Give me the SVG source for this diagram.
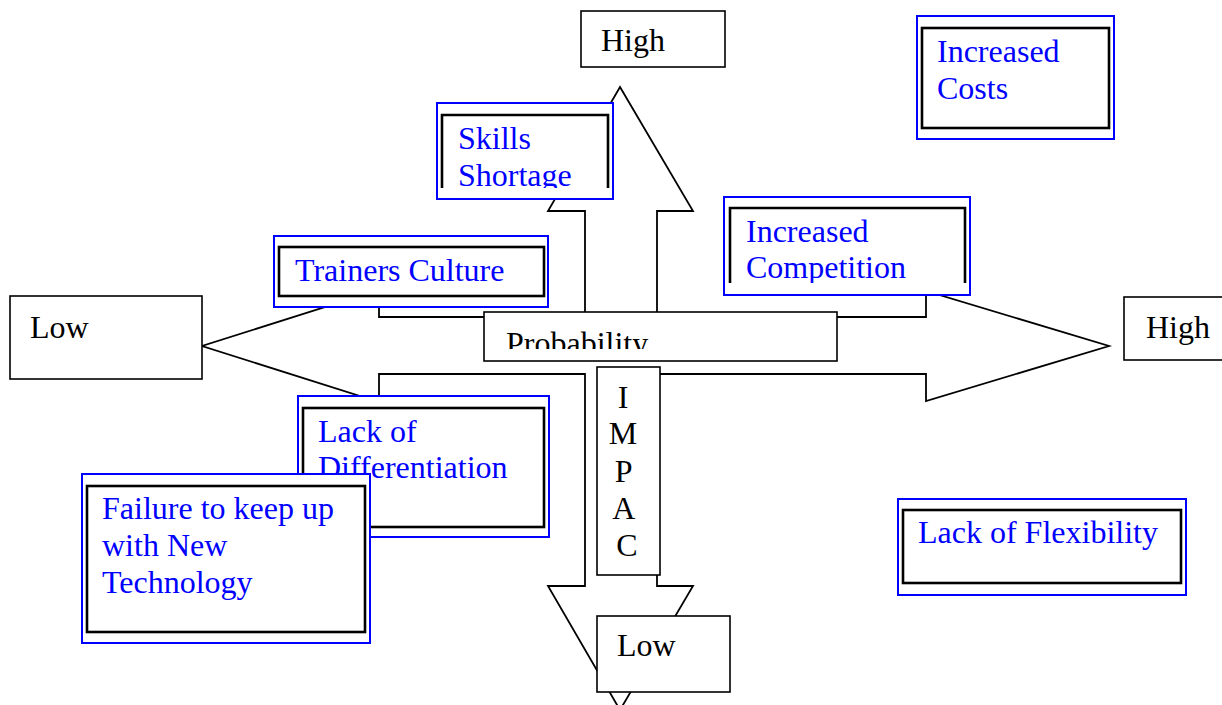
<svg xmlns="http://www.w3.org/2000/svg" width="1222" height="705" viewBox="0 0 1222 705">
  <defs>
    <style>
      text { font-family: "Liberation Serif", "Times New Roman", serif; font-size: 32px; }
      .lbl { fill: #000; }
      .risk { fill: #0000ff; }
      .plain { fill: #fff; stroke: #000; stroke-width: 1.6; }
      .outer { fill: #fff; stroke: #0000ff; stroke-width: 2; }
      .inner { fill: none; stroke: #000; stroke-width: 2.6; }
      .axis { fill: #fff; stroke: #000; stroke-width: 1.8; stroke-linejoin: miter; }
    </style>
    <clipPath id="clipSkills"><rect x="437" y="103" width="176" height="85"/></clipPath>
    <clipPath id="clipCompetition"><rect x="724" y="197" width="246" height="86"/></clipPath>
    <clipPath id="clipProb"><rect x="484" y="312" width="353" height="37"/></clipPath>
  </defs>

  <!-- four-way arrow: probability (horizontal) and impact (vertical) axes -->
  <g id="connectors">
    <polygon class="axis" points="620,87 693,211 657,211 657,317 926,317 926,291 1109,346 926,401 926,374 657,374 657,586 693,586 620,710 548,586 585,586 585,374 379,374 379,402 202,346 379,290 379,317 585,317 585,211 548,211"/>
  </g>

  <!-- axis end labels -->
  <g id="impact-high">
    <rect class="plain" x="581" y="11" width="144" height="56"/>
    <text class="lbl" x="601" y="51">High</text>
  </g>
  <g id="prob-low">
    <rect class="plain" x="10" y="296" width="192" height="83"/>
    <text class="lbl" x="30" y="338">Low</text>
  </g>
  <g id="prob-high">
    <rect class="plain" x="1124" y="297" width="104" height="63"/>
    <text class="lbl" x="1146" y="338">High</text>
  </g>
  <g id="impact-low">
    <rect class="plain" x="597" y="616" width="133" height="76"/>
    <text class="lbl" x="617" y="656">Low</text>
  </g>

  <!-- axis titles -->
  <g id="probability">
    <rect class="plain" x="484" y="312" width="353" height="49"/>
    <text class="lbl" x="506" y="354" clip-path="url(#clipProb)">Probability</text>
  </g>
  <g id="impact">
    <rect class="plain" x="597" y="367" width="63" height="208"/>
    <text class="lbl" text-anchor="middle">
      <tspan x="627" y="408">I</tspan>
      <tspan x="627" y="444">M</tspan>
      <tspan x="627" y="482">P</tspan>
      <tspan x="627" y="519">A</tspan>
      <tspan x="627" y="556">C</tspan>
    </text>
  </g>

  <!-- risk boxes -->
  <g id="skills-shortage">
    <rect class="outer" x="437" y="103" width="176" height="96"/>
    <path class="inner" d="M442,188 V115 H608 V188"/>
    <text class="risk" clip-path="url(#clipSkills)">
      <tspan x="458" y="149">Skills</tspan>
      <tspan x="458" y="186">Shortage</tspan>
    </text>
  </g>
  <g id="increased-costs">
    <rect class="outer" x="917" y="16" width="197" height="123"/>
    <rect class="inner" x="922" y="28" width="187" height="100"/>
    <text class="risk">
      <tspan x="937" y="62">Increased</tspan>
      <tspan x="937" y="99">Costs</tspan>
    </text>
  </g>
  <g id="trainers-culture">
    <rect class="outer" x="274" y="236" width="274" height="71"/>
    <rect class="inner" x="279" y="247" width="265" height="49"/>
    <text class="risk" x="295" y="281">Trainers Culture</text>
  </g>
  <g id="increased-competition">
    <rect class="outer" x="724" y="197" width="246" height="98"/>
    <path class="inner" d="M730,283 V208 H965 V283"/>
    <text class="risk" clip-path="url(#clipCompetition)">
      <tspan x="746" y="242">Increased</tspan>
      <tspan x="746" y="278">Competition</tspan>
    </text>
  </g>
  <g id="lack-of-differentiation">
    <rect class="outer" x="298" y="396" width="251" height="141"/>
    <rect class="inner" x="303" y="408" width="241" height="119"/>
    <text class="risk">
      <tspan x="318" y="442">Lack of</tspan>
      <tspan x="318" y="478">Differentiation</tspan>
    </text>
  </g>
  <g id="failure-new-technology">
    <rect class="outer" x="82" y="474" width="288" height="169"/>
    <rect class="inner" x="87" y="486" width="278" height="146"/>
    <text class="risk">
      <tspan x="102" y="519">Failure to keep up</tspan>
      <tspan x="102" y="556">with New</tspan>
      <tspan x="102" y="593">Technology</tspan>
    </text>
  </g>
  <g id="lack-of-flexibility">
    <rect class="outer" x="898" y="499" width="288" height="96"/>
    <rect class="inner" x="903" y="510" width="278" height="73"/>
    <text class="risk" x="918" y="543">Lack of Flexibility</text>
  </g>
</svg>
